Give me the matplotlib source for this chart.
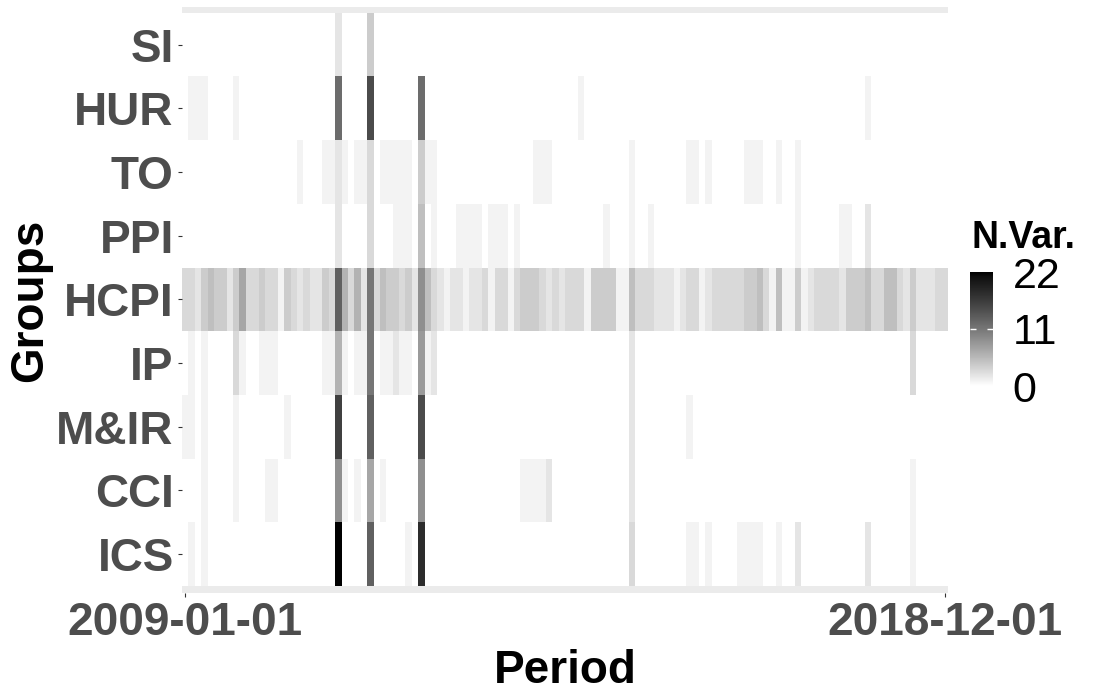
import numpy as np
import matplotlib
matplotlib.use("Agg")
import matplotlib.pyplot as plt
from matplotlib.colors import ListedColormap

plt.rcParams['font.family'] = ['Liberation Sans', 'DejaVu Sans']

# groups from top to bottom, one value per month (2009-01 .. 2018-12)
groups = ["SI", "HUR", "TO", "PPI", "HCPI", "IP", "M&IR", "CCI", "ICS"]
tick_dates = ["2009-01-01", "2018-12-01"]
n_months = 120

SI = [0]*20 + \
     [0,0,0,0,2,0,0,0,0,4, 0,0,0,0,0,0,0,0,0,0] + [0]*80
HUR = [0,1,1,1,0,0,0,0,1,0, 0,0,0,0,0,0,0,0,0,0] + \
      [0,0,0,0,12,0,0,0,0,15, 0,0,0,0,0,0,0,12,0,0] + [0]*20 + \
      [0,0,1,0,0,0,0,0,0,0, 0,0,0,0,0,0,0,0,0,0] + [0]*20 + \
      [0,0,0,0,0,0,0,1,0,0, 0,0,0,0,0,0,0,0,0,0]
TO = [0,0,0,0,0,0,0,0,0,0, 0,0,0,0,0,0,0,0,1,0] + \
     [0,0,1,1,2,1,0,1,1,3, 0,1,1,1,1,1,0,4,1,1] + \
     [0,0,0,0,0,0,0,0,0,0, 0,0,0,0,0,1,1,1,0,0] + \
     [0,0,0,0,0,0,0,0,0,0, 1,0,0,0,0,0,0,0,0,1] + \
     [1,0,1,0,0,0,0,0,1,1, 1,0,0,1,0,0,1,0,0,0] + [0]*20
PPI = [0]*20 + \
      [0,0,0,0,2,0,0,0,0,3, 0,0,0,1,1,1,0,5,0,1] + \
      [0,0,0,1,1,1,1,0,1,1, 1,0,1,0,0,0,0,0,0,0] + \
      [0,0,0,0,0,0,1,0,0,0, 1,0,0,1,0,0,0,0,0,0] + \
      [0,0,0,0,0,0,0,0,0,0, 0,0,0,0,0,0,1,0,0,0] + \
      [0,0,0,1,1,0,0,2,0,0, 0,0,0,0,0,0,0,0,0,0]
HCPI = [3,3,2,4,5,4,4,2,4,7, 3,3,4,3,3,1,4,3,2,3] + \
       [2,2,4,3,13,6,3,6,2,11, 3,5,4,4,3,4,2,9,5,3] + \
       [2,1,2,2,1,2,2,3,1,3, 3,1,3,4,4,4,3,2,3,2] + \
       [3,3,3,1,4,4,4,4,1,1, 5,3,3,3,2,2,2,1,2,3] + \
       [3,1,2,3,3,3,3,3,4,4, 5,3,1,5,1,1,4,1,2,3] + \
       [3,3,3,2,4,4,4,5,3,3, 5,5,3,2,4,2,2,2,3,3]
IP = [0,1,0,1,0,0,0,0,3,1, 0,0,1,1,1,0,0,0,0,0] + \
     [0,0,1,1,6,1,0,1,1,11, 0,1,1,2,1,1,0,8,1,2] + [0]*20 + \
     [0,0,0,0,0,0,0,0,0,0, 2,0,0,0,0,0,0,0,0,0] + [0]*20 + \
     [0,0,0,0,0,0,0,0,0,0, 0,0,0,0,3,0,0,0,0,0]
MIR = [1,1,0,1,0,0,0,0,1,0, 0,0,0,0,0,0,1,0,0,0] + \
      [0,0,0,0,16,0,0,0,0,13, 0,0,0,0,0,0,0,15,0,0] + [0]*20 + \
      [0,0,0,0,0,0,0,0,0,0, 2,0,0,0,0,0,0,0,0,1] + [0]*40
CCI = [0,0,0,1,0,0,0,0,1,0, 0,0,0,1,1,0,0,0,0,0] + \
      [0,0,0,0,9,1,0,1,0,7, 0,1,0,0,0,0,0,9,0,0] + \
      [0,0,0,0,0,0,0,0,0,0, 0,0,0,1,1,1,1,2,0,0] + \
      [0,0,0,0,0,0,0,0,0,0, 2,0,0,0,0,0,0,0,0,0] + [0]*20 + \
      [0,0,0,0,0,0,0,0,0,0, 0,0,0,0,1,0,0,0,0,0]
ICS = [0,1,0,1,0,0,0,0,0,0, 0,0,0,0,0,0,0,0,0,0] + \
      [0,0,0,0,22,0,0,0,0,13, 0,0,0,0,0,1,0,18,0,0] + [0]*20 + \
      [0,0,0,0,0,0,0,0,0,0, 3,0,0,0,0,0,0,0,0,1] + \
      [1,0,1,0,0,0,0,1,1,1, 1,0,0,1,0,0,2,0,0,0] + \
      [0,0,0,0,0,0,0,2,0,0, 0,0,0,0,1,0,0,0,0,0]

rows = [SI, HUR, TO, PPI, HCPI, IP, MIR, CCI, ICS]
Z = np.array(rows[::-1], dtype=float)  # bottom row first

# white -> black gradient interpolated in Lab lightness (like ggplot)
t = np.linspace(0, 1, 256)
L = 100 * (1 - t)
Y = np.where(L > 8, ((L + 16) / 116) ** 3, L / 903.3)
g = np.where(Y > 0.0031308, 1.055 * Y ** (1 / 2.4) - 0.055, 12.92 * Y)
g = np.clip(g, 0, 1)
cmap = ListedColormap(np.column_stack([g, g, g]))

fig = plt.figure(figsize=(11, 7), dpi=100)
ax = fig.add_axes([182/1100, 107/700, 766/1100, 586/700])

xe = np.arange(n_months + 1) - 0.5
ye = np.arange(len(groups) + 1) + 0.5
mesh = ax.pcolormesh(xe, ye, Z, cmap=cmap, vmin=0, vmax=22)

ax.axhspan(0.39, 0.5, color='#EBEBEB', lw=0)
ax.axhspan(9.5, 9.59, color='#EBEBEB', lw=0)
ax.set_xlim(-0.5, n_months - 0.5)
ax.set_ylim(0.39, 9.59)
for s in ax.spines.values():
    s.set_visible(False)

ax.set_yticks(np.arange(1, len(groups) + 1))
ax.set_yticklabels(groups[::-1])
ax.set_xticks([0, n_months - 1])
ax.set_xticklabels(tick_dates)
ax.tick_params(length=3, width=0.8, color='#333333', pad=3,
               labelsize=33, labelcolor='#4D4D4D')
for lab in ax.get_xticklabels() + ax.get_yticklabels():
    lab.set_fontweight('bold')

# axis titles
fig.text(565/1100, 1 - 683/700, "Period", fontsize=33, fontweight='bold',
         ha='center', va='baseline')
fig.text(30/1100, 1 - 300/700, "Groups", fontsize=33, fontweight='bold',
         ha='center', va='center', rotation=90)

# colour bar legend
cax = fig.add_axes([970/1100, 314/700, 23/1100, 114/700])
cb = fig.colorbar(mesh, cax=cax, ticks=[0, 11, 22])
cb.outline.set_visible(False)
cax.tick_params(direction='in', left=True, right=True, length=4, width=1,
                color='white', labelsize=31, pad=14)
for i, tk in enumerate(cax.yaxis.get_major_ticks()):
    if i != 1:
        tk.tick1line.set_visible(False)
        tk.tick2line.set_visible(False)
fig.text(971/1100, 1 - 248/700, "N.Var.", fontsize=27, fontweight='bold',
         ha='left', va='baseline')

fig.savefig("out.png", dpi=100)
